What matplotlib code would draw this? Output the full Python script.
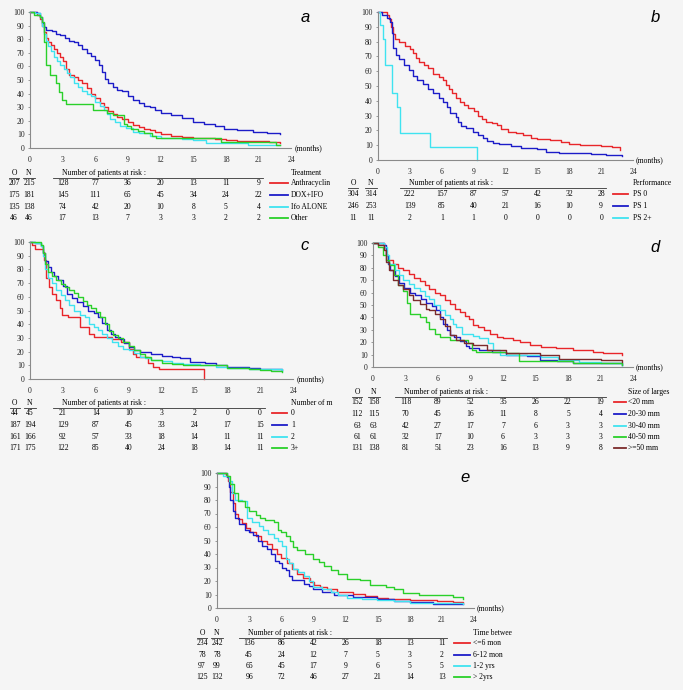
import matplotlib
matplotlib.use('Agg')
import matplotlib.pyplot as plt
from matplotlib.lines import Line2D

W, H = 683, 690
BG = '#f5f5f5'
RED = '#e8262a'; BLUE = '#1c1cc8'; CYAN = '#3fe3f0'; GREEN = '#2ad02a'; BROWN = '#7b2b2b'
SERIF = 'Liberation Serif'
FS = 5.5

# ---------------- data ----------------
month_ticks = [0, 3, 6, 9, 12, 15, 18, 21, 24]
pct_ticks = [0, 10, 20, 30, 40, 50, 60, 70, 80, 90, 100]
risk_times = [3, 6, 9, 12, 15, 18, 21]

# panel a: Treatment
a_title = 'Treatment'
a_labels = ['Anthracyclin', 'DOX+IFO', 'Ifo ALONE', 'Other']
a_O = [207, 175, 135, 46]
a_N = [215, 181, 138, 46]
a_risk = [[128, 77, 36, 20, 13, 11, 9], [145, 111, 65, 45, 34, 24, 22],
          [74, 42, 20, 10, 8, 5, 4], [17, 13, 7, 3, 3, 2, 2]]
a_t_anth = [0,0.6,0.9,1.1,1.3,1.5,1.7,1.9,2.2,2.5,2.8,3.0,3.3,3.6,4.0,4.4,4.8,5.2,5.6,6.0,6.4,6.8,7.2,7.6,8.0,8.5,9.0,9.5,10,10.5,11,11.5,12,13,14,15,16,17,18,19,20,21,22,23]
a_s_anth = [100,98,95,90,85,81,78,76,73,70,67,64,58,54,52,50,48,44,40,37,33,30,27,25,23,21,19,17,15.5,14,13,12,10.5,9,8,7.5,7,6.5,6,5.5,5,5,4.5,4]
a_t_dox = [0,0.6,0.9,1.1,1.3,1.5,2.0,2.4,2.8,3.2,3.6,4.0,4.4,4.8,5.2,5.6,6.0,6.3,6.6,6.9,7.2,7.6,8.0,8.5,9.0,9.5,10,10.5,11,11.5,12,13,14,15,16,17,17.8,19,20.5,21.8,23]
a_s_dox = [100,99,96,92,89,87,86,84,83,81,79,78,76,73,70,68,65,61,56,51,48,45,43,42,38,35,33,31,30,28,26,24,22,19,18,16.5,14,13.5,12,11,10]
a_t_ifo = [0,0.5,0.9,1.1,1.3,1.5,1.7,1.9,2.2,2.5,2.8,3.1,3.4,3.7,4.0,4.4,4.8,5.2,5.6,6.0,6.4,6.8,7.1,7.4,7.8,8.3,8.8,9.5,10,11,12,13,14,15,16.2,17,18,20,21,23]
a_s_ifo = [100,99,96,90,84,79,75,71,67,64,61,58,55,52,48,45,42,40,38,34,31,28,25,21,19,16.5,15,12,11,9,7.5,7,6.5,6,4,4,3.5,2.5,2.5,2]
a_t_oth = [0,0.4,0.9,1.1,1.3,1.45,1.8,2.4,2.7,2.9,3.3,5.8,7.1,7.6,8.6,8.9,9.3,9.9,10.5,11.2,11.6,17.6,22.6,23]
a_s_oth = [100,98,96,93,78,61,54,48,41,35,32,28,26,24,18,16,14,12.5,11,9,7,4.5,2.5,2.5]

# panel b: Performance
b_title = 'Performance'
b_labels = ['PS 0', 'PS 1', 'PS 2+']
b_O = [304, 246, 11]
b_N = [314, 253, 11]
b_risk = [[222, 157, 87, 57, 42, 32, 28], [139, 85, 40, 21, 16, 10, 9], [2, 1, 1, 0, 0, 0, 0]]
b_t_ps0 = [0,0.8,1.0,1.2,1.4,1.6,2.0,2.5,3.0,3.3,3.6,3.9,4.3,4.7,5.2,5.7,6.1,6.4,6.7,7.0,7.3,7.7,8.1,8.5,9.0,9.4,9.8,10.2,10.7,11.2,11.6,12.2,13,13.6,14.4,15,16.2,17.2,18,19,20,21,22,22.8]
b_s_ps0 = [100,98,95,90,85,82,80,77,75,72,69,66,64,62,58,56,54,51,48,45,42,39,37,35,33,30,28,26,25,23.5,21,19,18,17,15,14,13.5,12.5,11,10,10,9.5,8.5,7]
b_t_ps1 = [0,0.4,0.8,1.1,1.3,1.45,1.7,2.0,2.4,2.9,3.3,3.7,4.2,4.7,5.2,5.7,6.1,6.5,6.8,7.3,7.5,7.8,8.3,8.9,9.4,9.9,10.3,10.8,11.4,12.5,13.5,15.0,15.8,17.0,20.0,21.5,23]
b_s_ps1 = [100,98,96,93,86,76,71,68,64,61,57,54,51.5,48,45,42,39,36,32,29,26,23,21.5,19,17,15,13,11.5,10.5,9.5,8,7.2,5.6,4.5,4,3.4,3]
b_t_ps2 = [0,0.15,0.5,0.7,1.35,1.75,2.05,4.9,9.3]
b_s_ps2 = [100,91,82,64,45,36,18,9,0]

# panel c: Number of m(etastatic sites)
c_title = 'Number of m'
c_labels = ['0', '1', '2', '3+']
c_O = [44, 187, 161, 171]
c_N = [45, 194, 166, 175]
c_risk = [[21, 14, 10, 3, 2, 0, 0], [129, 87, 45, 33, 24, 17, 15],
          [92, 57, 33, 18, 14, 11, 11], [122, 85, 40, 24, 18, 14, 11]]
c_t_0 = [0,0.2,0.5,1.15,1.3,1.5,1.7,2.0,2.4,2.7,2.9,3.5,4.6,5.4,5.8,7.5,8.3,9.0,9.4,9.7,10.8,11.2,11.8,15.9]
c_s_0 = [100,98,95,93,87,74,67,62,58,52,47,45,38,33,31,29,27,22,18,16,12,9,7,0]
c_t_1 = [0,0.5,1.0,1.2,1.4,1.6,1.9,2.2,2.6,3.0,3.4,3.8,4.3,4.8,5.3,5.8,6.2,6.6,7.0,7.4,7.8,8.2,8.6,9.0,9.5,10,11,12,13,13.7,14.6,16,17,18,20,21,23]
c_s_1 = [100,99,97,92,86,82,78,75,72,68,62,59,56,53,50,48,45,41,36,33,31,29,26,23,21,20,18.5,17,16,15.5,12.6,12,10,8.5,8,7.5,6.5]
c_t_2 = [0,0.5,1.0,1.2,1.4,1.6,2.0,2.4,2.8,3.2,3.6,4.0,4.6,5.0,5.4,5.8,6.2,6.6,7.0,7.5,8.0,8.5,9.0,9.5,10,10.5,11,12,13,14,15.5,17,18,20,23]
c_s_2 = [100,99,97,90,80,74,70,65,61,58,54,50,47,45,40,38,36,33,30,27,24,22,21,19,16,15,14,13,12,11,10,9,8,7,6]
c_t_3 = [0,0.5,1.0,1.2,1.4,1.6,2.0,2.4,2.8,3.2,3.6,4.0,4.4,4.8,5.2,5.6,6.0,6.4,6.8,7.2,7.6,8.0,8.5,9.0,9.5,10,10.5,11,12,13,14,15.5,16.7,18,20,21,22,23]
c_s_3 = [100,100,98,92,84,78,75,72,69,67,65,63,60,57,54,52,49,45,40,35,32,30,27,24,21,18,16,14,12,11,10.5,10.5,10,8,7,6.5,6,5]

# panel d: Size of largest lesion
d_title = 'Size of larges'
d_labels = ['<20 mm', '20-30 mm', '30-40 mm', '40-50 mm', '>=50 mm']
d_O = [152, 112, 63, 61, 131]
d_N = [158, 115, 63, 61, 138]
d_risk = [[118, 89, 52, 35, 26, 22, 19], [70, 45, 16, 11, 8, 5, 4], [42, 27, 17, 7, 6, 3, 3],
          [32, 17, 10, 6, 3, 3, 3], [81, 51, 23, 16, 13, 9, 8]]
d_t_20 = [0,1.0,1.2,1.4,1.8,2.3,2.8,3.3,3.8,4.3,4.8,5.2,5.7,6.2,6.6,7.1,7.6,8.0,8.5,8.9,9.2,9.7,10.2,10.8,11.4,12.0,12.9,13.6,14.5,15.5,16.9,18.5,20.3,21.2,23]
d_s_20 = [100,97,90,86,83,80,78,75,72,69,66,63,60,58,54,51,47,44,41,39,34,32,30,27,24,23,22,20,17.5,16.5,15,13.5,12,11,10]
d_t_30 = [0,1.0,1.2,1.4,1.6,2.0,2.4,2.9,3.4,3.9,4.4,4.9,5.4,5.8,6.2,6.5,6.8,7.1,7.5,8.0,8.6,8.9,9.8,11,12.3,14.2,15.4,17,18.5,21,23]
d_s_30 = [100,98,90,83,78,73,68,64,60,58,55,52,49,46,40,35,30,26,24,21,17,15,13.5,12,10,9,6,5,3,3,1.5]
d_t_40 = [0,1.0,1.3,1.5,2.0,2.4,2.8,3.3,3.8,4.3,4.8,5.2,5.6,6.2,6.6,7.1,7.4,7.7,8.2,9.2,9.8,10.6,11.1,11.7,13,14.2,15.5,17.1,19,21,23]
d_s_40 = [100,97,90,83,78,74,70,67,64,61,57,55,50,46,42,39,35,32,27,25,23,19,13.5,10,10,9.5,8,5.4,4,3,2]
d_t_50 = [0,0.5,0.9,1.2,1.5,1.9,2.3,2.8,3.1,3.4,4.3,4.9,5.2,5.7,6.2,7.1,8.8,9.1,9.5,12.3,13.5,16.9,18.5,23]
d_s_50 = [100,97,90,86,82,74,66,61,52,43,40,36,31,27,24,21.5,19,13.5,12,11,4.6,4.6,3.5,2]
d_t_big = [0,0.5,1.0,1.2,1.5,1.85,2.3,2.8,3.3,3.7,4.3,4.9,5.2,5.7,6.2,6.6,7.1,7.7,8.4,9.2,10.5,12.3,15.4,17.2,21,23]
d_s_big = [100,98,94,85,78,70,66,63,58,54,51,47,46,43,39,33,25.5,21.5,19,17.5,13.5,11,9.4,6.7,5.4,4]

# panel e: Time between
e_title = 'Time betwee'
e_labels = ['<=6 mon', '6-12 mon', '1-2 yrs', '> 2yrs']
e_O = [234, 78, 97, 125]
e_N = [242, 78, 99, 132]
e_risk = [[136, 86, 42, 26, 18, 13, 11], [45, 24, 12, 7, 5, 3, 2],
          [65, 45, 17, 9, 6, 5, 5], [96, 72, 46, 27, 21, 14, 13]]
e_t_6 = [0,0.8,1.0,1.25,1.5,1.7,2.0,2.3,2.7,3.1,3.6,4.1,4.65,5.1,5.6,6.0,6.5,7.0,7.45,8.0,8.7,9.1,9.6,10.3,11.2,12.7,13.8,14.9,16,18,20.5,22,23]
e_s_6 = [100,98,94,86,78,70,66,63,59,56,53,50,47.6,44,40,37,33,29,25.5,22,19,17,15.5,14,12,10.6,9,7.6,7,5.7,5,4.5,3.7]
e_t_12 = [0,0.9,1.1,1.25,1.5,1.7,2.1,2.6,3.0,3.4,3.8,4.2,4.65,5.0,5.4,5.8,6.1,6.4,6.7,7.0,8.1,8.6,9.0,9.8,10.9,12.7,14.9,16.5,18,20.2,23]
e_s_12 = [100,97,90,80,72,67,62,58,56,54,50,46,44,40,35,33,30,28,24,20.5,18,16,14,12,9.4,8,6.4,5.5,4.4,2.7,2.7]
e_t_2y = [0,0.6,1.1,1.4,1.7,2.3,2.8,3.3,3.9,4.3,4.8,5.3,5.7,6.05,6.4,6.7,7.1,7.6,8.1,8.6,9.0,9.8,10.6,11.3,12.1,13.5,14.9,16.5,18,20,23]
e_s_2y = [100,98,94,85,80,79,67,64,61,58,55,52,50,46,36.5,33,29,27,24,20,15.5,14,12,10,7.7,7,5.7,5,4,3.5,2.7]
e_t_gt = [0,0.9,1.2,1.55,2.0,2.6,3.0,3.6,4.0,4.5,5.3,5.7,6.0,6.4,6.8,7.1,7.5,8.2,9.0,9.5,10,10.6,11.3,12.1,13.4,14.3,15.8,16.5,17.4,18.9,21.1,22,23]
e_s_gt = [100,98,92,85,79,75,72,69,67,65.5,63.5,58,56,53,50,45,43,40,36.5,34,31,28,25,21.7,20.5,17,15.5,14,11.4,10,9.4,8.5,7]

panels = [
    dict(label='a', title=a_title, labels=a_labels, O=a_O, N=a_N, risk=a_risk,
         curves=[(a_t_anth, a_s_anth), (a_t_dox, a_s_dox), (a_t_ifo, a_s_ifo), (a_t_oth, a_s_oth)],
         colors=[RED, BLUE, CYAN, GREEN],
         box=(30, 291, 12, 148), lab=(305, 17), hdr=173, rows=[183, 195, 207, 218],
         ox=14, nx=29, leg=(270, 288, 291)),
    dict(label='b', title=b_title, labels=b_labels, O=b_O, N=b_N, risk=b_risk,
         curves=[(b_t_ps0, b_s_ps0), (b_t_ps1, b_s_ps1), (b_t_ps2, b_s_ps2)],
         colors=[RED, BLUE, CYAN],
         box=(378, 633, 12, 160), lab=(655, 18), hdr=183, rows=[194, 206, 218],
         ox=353, nx=371, leg=(613, 628, 633)),
    dict(label='c', title=c_title, labels=c_labels, O=c_O, N=c_N, risk=c_risk,
         curves=[(c_t_0, c_s_0), (c_t_1, c_s_1), (c_t_2, c_s_2), (c_t_3, c_s_3)],
         colors=[RED, BLUE, CYAN, GREEN],
         box=(30, 293, 242, 379), lab=(305, 245), hdr=403, rows=[413, 425, 437, 448],
         ox=15, nx=30, leg=(272, 287, 291)),
    dict(label='d', title=d_title, labels=d_labels, O=d_O, N=d_N, risk=d_risk,
         curves=[(d_t_20, d_s_20), (d_t_30, d_s_30), (d_t_40, d_s_40), (d_t_50, d_s_50), (d_t_big, d_s_big)],
         colors=[RED, BLUE, CYAN, GREEN, BROWN],
         box=(373, 633, 243, 367), lab=(655, 247), hdr=392, rows=[402, 414, 426, 437, 448],
         ox=357, nx=374, leg=(614, 626, 628)),
    dict(label='e', title=e_title, labels=e_labels, O=e_O, N=e_N, risk=e_risk,
         curves=[(e_t_6, e_s_6), (e_t_12, e_s_12), (e_t_2y, e_s_2y), (e_t_gt, e_s_gt)],
         colors=[RED, BLUE, CYAN, GREEN],
         box=(217, 474, 473, 608), lab=(465, 478), hdr=633, rows=[643, 655, 666, 677],
         ox=202, nx=217, leg=(454, 470, 473)),
]

fig = plt.figure(figsize=(W / 100, H / 100), dpi=100, facecolor=BG)


def fx(x):
    return x / W


def fy(y):
    return 1 - y / H


def ftext(x, y, s, ha='center', **kw):
    fig.text(fx(x), fy(y), s, ha=ha, va='center', fontsize=FS, family=SERIF, **kw)


def fline(x0, x1, y, color='#333333', lw=0.6):
    fig.add_artist(Line2D([fx(x0), fx(x1)], [fy(y), fy(y)], color=color, lw=lw,
                          transform=fig.transFigure))


for p in panels:
    l, r, t, b = p['box']
    ax = fig.add_axes([fx(l), fy(b), (r - l) / W, (b - t) / H])
    ax.set_facecolor('none')
    ax.set_xlim(0, 24)
    ax.set_ylim(0, 100)
    for sp in ('top', 'right'):
        ax.spines[sp].set_visible(False)
    for sp in ('left', 'bottom'):
        ax.spines[sp].set_color('#8a8a8a')
        ax.spines[sp].set_linewidth(0.8)
    ax.set_xticks(month_ticks)
    ax.set_yticks(pct_ticks)
    ax.tick_params(axis='x', length=0, pad=6, labelsize=FS, colors='#222222')
    ax.tick_params(axis='y', length=1.5, width=0.6, pad=2.5, labelsize=FS,
                   colors='#222222', color='#8a8a8a')
    for lbl in ax.get_xticklabels() + ax.get_yticklabels():
        lbl.set_family(SERIF)
    for (ts, ss), c in zip(p['curves'], p['colors']):
        n = min(len(ts), len(ss))
        ax.step(ts[:n], ss[:n], where='post', color=c, lw=1.0, clip_on=False)
    ax.text(1.012, 0.0, '(months)', transform=ax.transAxes, ha='left', va='center',
            fontsize=FS, family=SERIF)
    fig.text(fx(p['lab'][0]), fy(p['lab'][1]), p['label'], ha='center', va='center',
             fontsize=12, style='italic', family='Liberation Sans')

    # risk table
    def colx(m):
        return l + m * (r - l) / 24.0

    hy = p['hdr']
    ftext(p['ox'], hy, 'O')
    ftext(p['nx'], hy, 'N')
    fline(p['ox'] - 5, p['ox'] + 5, hy + 5)
    fline(p['nx'] - 6, p['nx'] + 6, hy + 5)
    ftext(colx(3) - 1, hy, 'Number of patients at risk :', ha='left')
    fline(colx(3) - 10, colx(21) + 5, hy + 5)
    lx0, lx1, tx = p['leg']
    ftext(tx, hy, p['title'], ha='left')
    for i, ry in enumerate(p['rows']):
        ftext(p['ox'], ry, str(p['O'][i]))
        ftext(p['nx'], ry, str(p['N'][i]))
        for m, v in zip(risk_times, p['risk'][i]):
            ftext(colx(m), ry, str(v))
        fline(lx0, lx1, ry, color=p['colors'][i], lw=1.3)
        ftext(tx, ry, p['labels'][i], ha='left')

fig.savefig('out.png', dpi=100, facecolor=BG)
